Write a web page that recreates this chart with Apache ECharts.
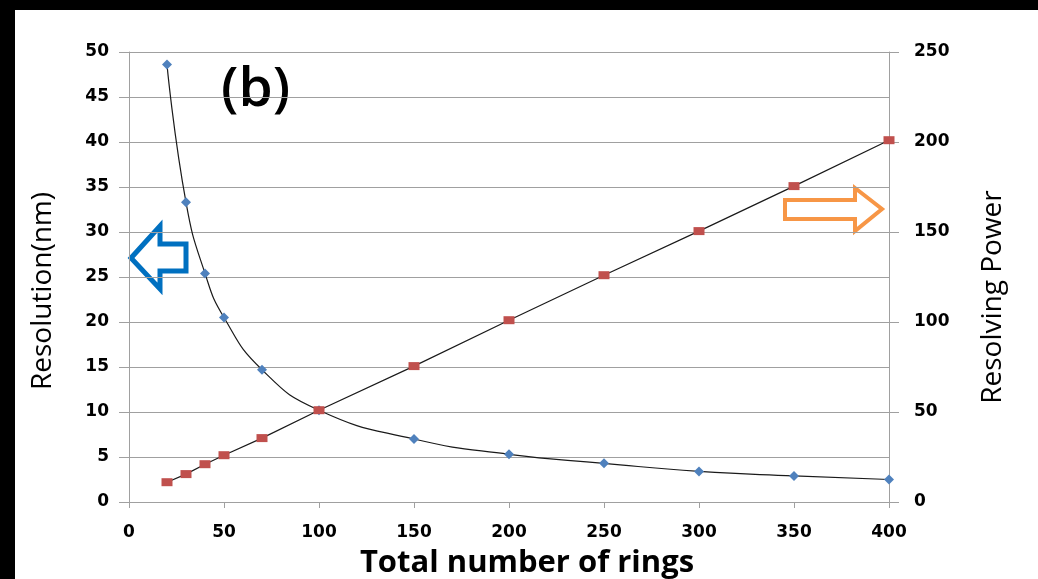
<!DOCTYPE html>
<html>
<head>
<meta charset="utf-8">
<script src="https://cdn.jsdelivr.net/npm/echarts@6/dist/echarts.min.js"></script>
<style>
  html, body { margin:0; padding:0; background:#000; }
  .paper { position:absolute; left:15px; top:10px; width:1023px; height:569px; background:#fff; }
  #chart { position:absolute; left:0; top:0; width:1038px; height:579px; }
</style>
</head>
<body>
<div class="paper"></div>
<div id="chart"></div>
<script>
// number of rings on the x axis
var rings = [20, 30, 40, 50, 70, 100, 150, 200, 250, 300, 350, 400];
// resolution (nm), left axis
var resolution = [48.6, 33.3, 25.4, 20.5, 14.7, 10.2, 7.0, 5.3, 4.3, 3.4, 2.9, 2.5];
// resolving power, right axis
var resolvingPower = [11, 15.5, 21, 26, 35.5, 51, 75.5, 101, 126, 150.5, 175.5, 201];

var xTicks = [0, 50, 100, 150, 200, 250, 300, 350, 400];
var leftTicks = [0, 5, 10, 15, 20, 25, 30, 35, 40, 45, 50];
var rightTicks = [0, 50, 100, 150, 200, 250];

function pairs(xs, ys) {
  var out = [];
  for (var i = 0; i < xs.length; i++) out.push([xs[i], ys[i]]);
  return out;
}

var gridGray = '#a0a0a0';
var tickFont = { color:'#000', fontSize:17, fontWeight:'bold', fontFamily:'"DejaVu Sans", sans-serif' };

var myChart = echarts.init(document.getElementById('chart'));
var option = {
  animation: false,
  backgroundColor: 'transparent',
  grid: { left:129, right:149, top:52, bottom:77, outerBoundsMode:'none', containLabel:false },
  xAxis: {
    type: 'value',
    min: xTicks[0], max: xTicks[xTicks.length-1], interval: 50,
    name: 'Total number of rings',
    nameLocation: 'middle',
    nameGap: 46,
    nameTextStyle: { color:'#000', fontSize:31, fontWeight:'bold', fontFamily:'"Open Sans", sans-serif', padding:[0,0,0,36] },
    axisLine: { show:true, lineStyle:{ color:gridGray, width:1 } },
    axisTick: { show:true, length:6, lineStyle:{ color:gridGray } },
    splitLine: { show:false },
    axisLabel: Object.assign({ margin:22 }, tickFont)
  },
  yAxis: [
    {
      type: 'value',
      min: leftTicks[0], max: leftTicks[leftTicks.length-1], interval: 5,
      name: 'Resolution(nm)',
      nameLocation: 'middle',
      nameGap: 72,
      nameRotate: 90,
      nameTextStyle: { color:'#000', fontSize:28, fontFamily:'"Open Sans", sans-serif', padding:[0,28,0,0] },
      axisLine: { show:true, lineStyle:{ color:gridGray, width:1 } },
      axisTick: { show:true, length:10, lineStyle:{ color:gridGray } },
      splitLine: { show:true, lineStyle:{ color:gridGray, width:1 } },
      axisLabel: Object.assign({ margin:20 }, tickFont)
    },
    {
      type: 'value',
      min: rightTicks[0], max: rightTicks[rightTicks.length-1], interval: 50,
      name: 'Resolving Power',
      nameLocation: 'middle',
      nameGap: 90,
      nameRotate: 90,
      nameTextStyle: { color:'#000', fontSize:28, fontFamily:'"Open Sans", sans-serif', padding:[0,40,0,0] },
      axisLine: { show:true, lineStyle:{ color:gridGray, width:1 } },
      axisTick: { show:true, length:10, lineStyle:{ color:gridGray } },
      splitLine: { show:false },
      axisLabel: Object.assign({ margin:25 }, tickFont)
    }
  ],
  series: [
    {
      name: 'Resolution',
      type: 'line',
      yAxisIndex: 0,
      smooth: true,
      data: pairs(rings, resolution),
      symbol: 'diamond',
      symbolSize: 10,
      itemStyle: { color:'#4f81bd' },
      lineStyle: { color:'#1a1a1a', width:1.2 },
      z: 3
    },
    {
      name: 'Resolving Power',
      type: 'line',
      yAxisIndex: 1,
      data: pairs(rings, resolvingPower),
      symbol: 'rect',
      symbolSize: [11, 8],
      itemStyle: { color:'#c0504d' },
      lineStyle: { color:'#1a1a1a', width:1.2 },
      z: 3
    }
  ],
  graphic: [
    {
      type: 'text', left: 221, top: 63,
      style: { text:'(b)', fill:'#000', font:'600 55px "Open Sans", sans-serif' }
    },
    {
      type: 'polygon',
      shape: { points: [[131,258],[160,226],[160,244],[186,244],[186,271],[160,271],[160,289]] },
      style: { fill:'none', stroke:'#0070c0', lineWidth:5 }
    },
    {
      type: 'polygon',
      shape: { points: [[785,200],[855,200],[855,188],[882,209],[855,231],[855,219],[785,219]] },
      style: { fill:'none', stroke:'#f79646', lineWidth:4 }
    }
  ]
};
myChart.setOption(option);
</script>
</body>
</html>
